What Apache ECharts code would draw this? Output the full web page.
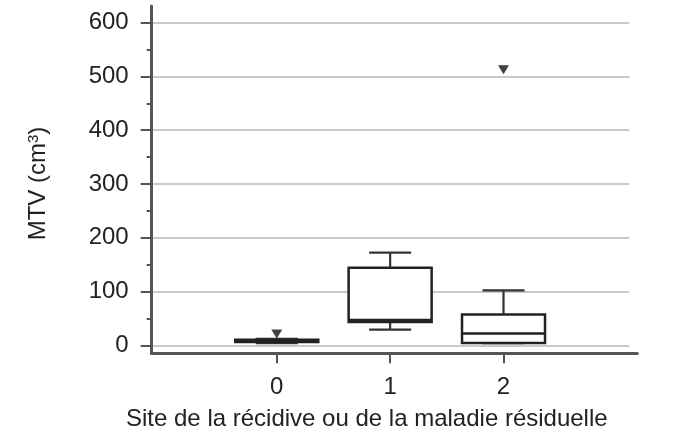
<!DOCTYPE html>
<html>
<head>
<meta charset="utf-8">
<script src="https://cdn.jsdelivr.net/npm/echarts@6/dist/echarts.min.js"></script>
<style>
  html, body { margin: 0; padding: 0; background: #fff; }
  #chart { width: 684px; height: 436px; }
</style>
</head>
<body>
<div id="chart"></div>
<script>
// Recurrence / residual disease site groups
const sites = [0, 1, 2];
// Five-number summaries of MTV (cm³) per site
const whiskerLow  = [4, 29, 4];
const quartile1   = [6, 43, 4];
const medians     = [8, 47, 22];
const quartile3   = [10, 144, 57];
const whiskerHigh = [12, 172, 102];
// Outlying values: [site, MTV]
const outlierSites  = [0, 2];
const outlierValues = [21, 512];
// Axis ticks
const yTickValues = [0, 100, 200, 300, 400, 500, 600];
const xTickValues = sites;

const FONT = "'Liberation Sans', Arial, sans-serif";
const TEXT = '#222';
const AXIS = '#555';
const FS = 24;

const boxData = sites.map((s, i) => [s, whiskerLow[i], quartile1[i], medians[i], quartile3[i], whiskerHigh[i]]);
const outlierData = outlierSites.map((s, i) => [s, outlierValues[i]]);

const chart = echarts.init(document.getElementById('chart'), null, { renderer: 'canvas' });

const BOX_W = 83;
const CAP_W = 42;

function renderBox(params, api) {
  const x = api.value(0);
  const lo = api.coord([x, api.value(1)]);
  const q1 = api.coord([x, api.value(2)]);
  const md = api.coord([x, api.value(3)]);
  const q3 = api.coord([x, api.value(4)]);
  const hi = api.coord([x, api.value(5)]);
  const cx = q1[0];
  const lineStyle = { stroke: '#222', lineWidth: 2.5, fill: null };
  const whiskerStyle = { stroke: '#333', lineWidth: 2.2, fill: null };
  return {
    type: 'group',
    children: [
      { type: 'line', shape: { x1: cx, y1: q3[1], x2: cx, y2: hi[1] }, style: whiskerStyle },
      { type: 'line', shape: { x1: cx, y1: q1[1], x2: cx, y2: lo[1] }, style: whiskerStyle },
      { type: 'line', shape: { x1: cx - CAP_W / 2, y1: hi[1], x2: cx + CAP_W / 2, y2: hi[1] }, style: whiskerStyle },
      { type: 'line', shape: { x1: cx - CAP_W / 2, y1: lo[1], x2: cx + CAP_W / 2, y2: lo[1] }, style: whiskerStyle },
      { type: 'rect', shape: { x: cx - BOX_W / 2, y: q3[1], width: BOX_W, height: q1[1] - q3[1] },
        style: { stroke: '#222', lineWidth: 2.5, fill: '#fff' } },
      { type: 'line', shape: { x1: cx - BOX_W / 2, y1: md[1], x2: cx + BOX_W / 2, y2: md[1] }, style: lineStyle }
    ]
  };
}

const option = {
  backgroundColor: '#fff',
  animation: false,
  grid: [
    // data area with axis lines
    { left: 151.7, right: 684 - 637.3, top: 6, bottom: 436 - 353.3, containLabel: false },
    // gridline / labelled value area
    { left: 151.7, right: 684 - 629.3, top: 22.5, bottom: 436 - 345.5, containLabel: false }
  ],
  xAxis: [
    {
      gridIndex: 0, type: 'value', min: -1.103, max: 3.18,
      axisLine: { show: true, onZero: false, lineStyle: { color: AXIS, width: 3 } },
      axisTick: { show: true, customValues: xTickValues, length: 10, lineStyle: { color: AXIS, width: 2 } },
      axisLabel: { show: true, customValues: xTickValues, margin: 22, fontSize: FS, fontFamily: FONT, color: TEXT },
      splitLine: { show: false }
    },
    {
      gridIndex: 1, type: 'value', min: 0, max: 1, show: false
    }
  ],
  yAxis: [
    {
      gridIndex: 0, type: 'value', min: -15, max: 630.5,
      axisLine: { show: true, onZero: false, lineStyle: { color: AXIS, width: 3 } },
      axisTick: { show: false }, axisLabel: { show: false }, splitLine: { show: false }
    },
    {
      gridIndex: 1, type: 'value', min: 0, max: 600, interval: 100,
      axisLine: { show: false },
      axisTick: { show: true, length: 11, lineStyle: { color: AXIS, width: 2 } },
      minorTick: { show: true, splitNumber: 2, length: 5, lineStyle: { color: AXIS, width: 2 } },
      axisLabel: { margin: 23, fontSize: FS, fontFamily: FONT, color: TEXT,
                   customValues: yTickValues },
      splitLine: { show: true, lineStyle: { color: '#c9c9c9', width: 1.8 } }
    }
  ],
  series: [
    {
      type: 'custom', xAxisIndex: 0, yAxisIndex: 0, z: 3,
      data: boxData,
      encode: { x: 0, y: [1, 2, 3, 4, 5] },
      renderItem: renderBox
    },
    {
      type: 'scatter', xAxisIndex: 0, yAxisIndex: 0, z: 4,
      data: outlierData,
      symbol: 'triangle', symbolRotate: 180, symbolSize: [11, 9],
      itemStyle: { color: '#111' }
    }
  ],
  graphic: [
    {
      type: 'text', left: 126, top: 407,
      style: { text: 'Site de la récidive ou de la maladie résiduelle', font: FS + 'px ' + FONT, fill: TEXT }
    },
    {
      type: 'text', x: 38, y: 183.5, rotation: Math.PI / 2,
      style: {
        text: '{a|MTV (cm}{s|3}{a|)}',
        align: 'center', verticalAlign: 'middle',
        rich: {
          a: { fontSize: FS, fontFamily: FONT, fill: TEXT, color: TEXT },
          s: { fontSize: 15, fontFamily: FONT, fill: TEXT, color: TEXT, verticalAlign: 'top', padding: [0, 0, 9, 0] }
        }
      }
    }
  ]
};

chart.setOption(option);
</script>
</body>
</html>
